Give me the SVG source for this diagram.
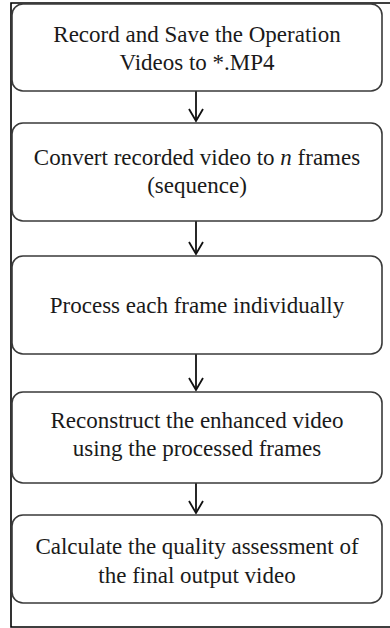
<svg xmlns="http://www.w3.org/2000/svg" width="390" height="628" viewBox="0 0 390 628">
  <style>
    .box { fill: #ffffff; stroke: #3a3a3a; stroke-width: 1.6; }
    .label { font-family: "Liberation Serif", "Times New Roman", serif; font-size: 23px; fill: #1a1a1a; text-anchor: middle; }
    .flow { stroke: #111111; stroke-width: 1.8; fill: none; }
  </style>
  <defs>
    <!-- open V head, drawn along the +x axis so orient="auto" points it along the line -->
    <marker id="vhead" viewBox="-14 -9 16 18" markerWidth="16" markerHeight="18" refX="0" refY="0" orient="auto" markerUnits="userSpaceOnUse">
      <path d="M-12,-7 L0,0 L-12,7" fill="none" stroke="#111111" stroke-width="1.8"/>
    </marker>
  </defs>

  <rect width="390" height="628" fill="#ffffff"/>

  <!-- outer frame (right side runs past the edge) -->
  <path d="M400,3 H11 V627 H400" fill="none" stroke="#000000" stroke-width="1.6"/>

  <g id="connectors">
    <line class="flow" x1="196" y1="91" x2="196" y2="121" marker-end="url(#vhead)"/>
    <line class="flow" x1="196" y1="221" x2="196" y2="254" marker-end="url(#vhead)"/>
    <line class="flow" x1="196" y1="354" x2="196" y2="390" marker-end="url(#vhead)"/>
    <line class="flow" x1="196" y1="483" x2="196" y2="513" marker-end="url(#vhead)"/>
  </g>

  <g id="record">
    <rect class="box" x="12" y="4" width="370" height="87" rx="11"/>
    <text class="label" x="197" y="42">Record and Save the Operation</text>
    <text class="label" x="197" y="70">Videos to *.MP4</text>
  </g>

  <g id="convert">
    <rect class="box" x="12" y="123" width="370" height="98" rx="11"/>
    <text class="label" x="197" y="165">Convert recorded video to <tspan font-style="italic">n</tspan> frames</text>
    <text class="label" x="197" y="193">(sequence)</text>
  </g>

  <g id="process">
    <rect class="box" x="12" y="256" width="370" height="98" rx="11"/>
    <text class="label" x="197" y="313">Process each frame individually</text>
  </g>

  <g id="reconstruct">
    <rect class="box" x="12" y="392" width="370" height="91" rx="11"/>
    <text class="label" x="197" y="428">Reconstruct the enhanced video</text>
    <text class="label" x="197" y="456">using the processed frames</text>
  </g>

  <g id="assess">
    <rect class="box" x="12" y="515" width="370" height="88" rx="11"/>
    <text class="label" x="197" y="554">Calculate the quality assessment of</text>
    <text class="label" x="197" y="583">the final output video</text>
  </g>
</svg>
